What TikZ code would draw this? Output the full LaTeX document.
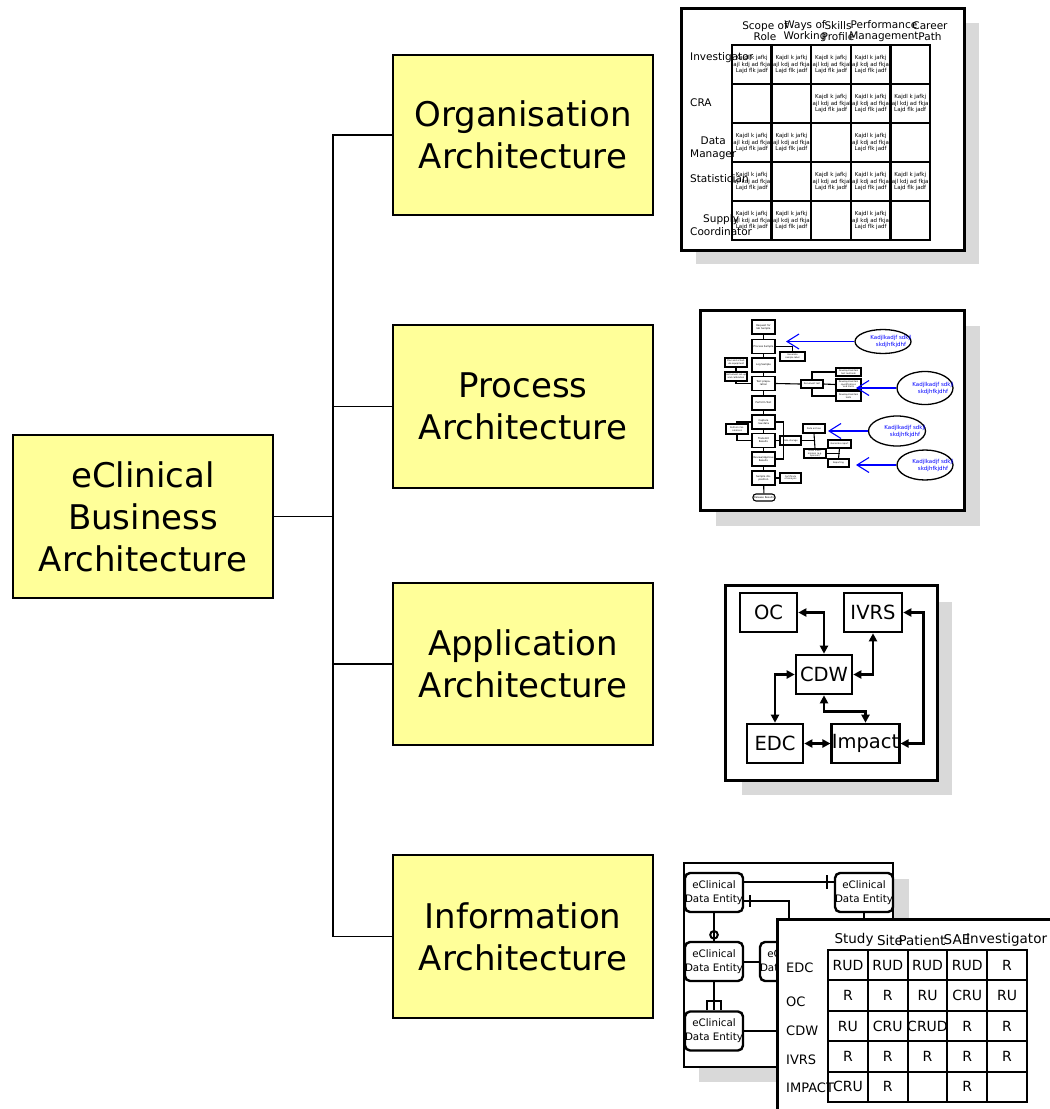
\documentclass[tikz,border=0pt]{standalone}
\usepackage{fontspec}
\setmainfont{DejaVu Sans}
\usetikzlibrary{shapes.geometric,arrows.meta,calc}
\definecolor{boxyellow}{RGB}{255,255,153}
\definecolor{shadowgray}{RGB}{217,217,217}
\begin{document}
\begin{tikzpicture}[x=1pt,y=-1pt,
  archbox/.style={draw=black,line width=1.5pt,fill=boxyellow,minimum width=260pt,minimum height=162pt,inner sep=0pt,align=center,font=\fontsize{34}{42}\selectfont},
  conn/.style={line width=1.7pt},
  shadow/.style={fill=shadowgray},
  frame/.style={draw=black,line width=3pt,fill=white},
  orgcell/.style={draw=black,line width=2.5pt,minimum width=39.6pt,minimum height=39pt,inner sep=0pt},
  celltxt/.style={align=center,inner sep=0pt,font=\fontsize{5.5}{6.5}\selectfont},
  orghead/.style={align=center,inner sep=0pt,font=\fontsize{10.5}{11}\selectfont},
  orgrow/.style={align=center,inner sep=0pt,anchor=west,font=\fontsize{10.5}{13}\selectfont},
  pbox/.style={draw=black,line width=1.1pt,fill=white,inner sep=0pt,minimum width=23pt,minimum height=14pt,align=center,text width=20pt,font=\fontsize{2.5}{3}\selectfont},
  sbox/.style={draw=black,line width=1.1pt,fill=white,inner sep=0pt,minimum width=22pt,minimum height=9pt,align=center,text width=20pt,font=\fontsize{2.2}{2.6}\selectfont},
  pline/.style={line width=1.1pt},
  ell/.style={ellipse,draw=black,line width=1.3pt,fill=white,inner sep=0pt,minimum width=56pt},
  elltxt/.style={text=blue,align=center,font=\fontsize{5.5}{7}\selectfont},
  barrow/.style={draw=blue,line width=1.1pt,-{Straight Barb[length=12pt,width=15pt]}},
  appbox/.style={draw=black,line width=2.6pt,fill=white,inner sep=0pt,minimum width=57pt,minimum height=39pt,font=\fontsize{19.5}{22}\selectfont},
  apparrow/.style={line width=2.4pt,{Triangle[length=8pt,width=8pt]}-{Triangle[length=8pt,width=8pt]}},
  entity/.style={draw=black,line width=2.4pt,fill=white,rounded corners=5pt,inner sep=0pt,minimum width=46pt,minimum height=39pt,align=center,font=\fontsize{10.3}{14}\selectfont},
  erline/.style={line width=2pt},
  crudcell/.style={draw=black,line width=2pt,minimum width=39.8pt,minimum height=30.4pt,inner sep=0pt},
  crudtxt/.style={inner sep=0pt,font=\fontsize{14}{15}\selectfont},
  crudhead/.style={inner sep=0pt,font=\fontsize{13.5}{15}\selectfont},
  crudrow/.style={inner sep=0pt,anchor=west,font=\fontsize{13}{15}\selectfont}
]
\useasboundingbox (0,0) rectangle (1050,1109);

% ---------- main tree ----------
\node[archbox,minimum height=163pt] (root) at (143,516.5) {eClinical\\Business\\Architecture};
\node[archbox,minimum height=160pt] (org) at (523,135) {Organisation\\Architecture};
\node[archbox,minimum height=163pt] (proc) at (523,406.5) {Process\\Architecture};
\node[archbox] (app) at (523,664) {Application\\Architecture};
\node[archbox,minimum height=163pt] (info) at (523,936.5) {Information\\Architecture};
\coordinate (bus) at (333,516.5);
\draw[conn] (root.east) -- (bus);
\draw[conn] (org.west) -| (bus);
\draw[conn] (proc.west) -| (bus);
\draw[conn] (app.west) -| (bus);
\draw[conn] (info.west) -| (bus);

% ---------- organisation matrix ----------
\fill[shadow] (696,23) rectangle (979,264);
\draw[frame] (681,8) rectangle (964,250);
\foreach \r in {1,...,5}{
  \foreach \c in {1,...,5}{
    \node[orgcell] (oc-\r-\c) at ({732+(\c-0.5)*39.6},{45+(\r-0.5)*39}) {};
  }
}
\foreach \r/\c in {1/1,1/2,1/3,1/4,2/3,2/4,2/5,3/1,3/2,3/4,4/1,4/3,4/4,4/5,5/1,5/2,5/4}
  \node[celltxt] at (oc-\r-\c) {Kajdl k jafkj\\lajl kdj ad fkjal\\Lajd flk jadf};
\node[orghead] (h1) at (765,31.5) {Scope of\\Role};
\node[orghead] (h2) at (805,31.5) {Ways of\\Working};
\node[orghead] (h3) at (838,31.5) {Skills\\Profile};
\node[orghead] (h4) at (884,31.5) {Performance\\Management};
\node[orghead] (h5) at (930,31.5) {Career\\Path};
\node[orgrow] (r1) at (690,58) {Investigator};
\node[orgrow] (r2) at (690,103) {CRA};
\node[orgrow] (r3) at (690,148.5) {Data\\Manager};
\node[orgrow] (r4) at (690,179) {Statistician};
\node[orgrow] (r5) at (690,225.5) {Supply\\Coordinator};

% ---------- process map ----------
\fill[shadow] (716,326) rectangle (980,526);
\draw[frame] (700,310) rectangle (964,510);
\node[pbox] (b1) at (763.5,327) {Request for lab Sample};
\node[pbox] (b2) at (763.5,346.5) {Process Sample};
\node[pbox] (b3) at (763.5,365) {Log Sample};
\node[pbox] (b4) at (763.5,383.5) {Test preparation};
\node[pbox] (b5) at (763.5,403) {Perform Test};
\node[pbox] (b6) at (763.5,422) {Capture raw data};
\node[pbox] (b7) at (763.5,440.5) {Transmit Results};
\node[pbox] (b8) at (763.5,459) {Review/Approve Results};
\node[pbox] (b9) at (763.5,478) {Sample disposition};
\node[pbox,rounded corners=3pt,minimum width=22pt,minimum height=7pt] (term) at (764,497.5) {Release Results};
\node[sbox,minimum width=25pt] (s1) at (792.5,356.5) {Generate sample label};
\node[sbox] (L1) at (736,362.5) {Plan and schedule equipment};
\node[sbox] (L2) at (736,376.5) {Instrument set-up and calibration};
\node[sbox,minimum height=8pt] (D) at (812,384) {Document test};
\node[sbox,minimum width=25pt,minimum height=8pt] (R1) at (848.5,372) {Develop/maintain test methods};
\node[sbox,minimum width=25pt,minimum height=11pt] (R2) at (848.5,384.5) {Develop/maintain specifications and limits};
\node[sbox,minimum width=25pt,minimum height=10pt] (R3) at (848.5,396) {Develop/maintain tests};
\node[sbox,minimum height=10pt] (P) at (737,429) {Perform Calculations};
\node[sbox,minimum width=21pt] (T1) at (790.5,440.5) {Data storage};
\node[sbox] (A) at (814,428.5) {Data archive};
\node[sbox] (DT) at (815,453.5) {Data Transmission (e.g. Sponsor)};
\node[sbox,minimum width=23pt,minimum height=8pt] (GR) at (839.5,444) {Generate report};
\node[sbox,minimum width=21pt,minimum height=8pt] (RP) at (838.5,463) {Reporting};
\node[sbox,minimum width=21pt,minimum height=10pt] (CoA) at (790.5,478) {Certificate of Analysis};
\draw[pline] (b1) -- (b2); \draw[pline] (b2) -- (b3); \draw[pline] (b3) -- (b4);
\draw[pline] (b4) -- (b5); \draw[pline] (b5) -- (b6); \draw[pline] (b6) -- (b7);
\draw[pline] (b7) -- (b8); \draw[pline] (b8) -- (b9); \draw[pline] (b9) -- (term);
\draw[pline] (b2.east) -| (s1.north);
\draw[pline] (L1) -- (L2);
\draw[pline] (L2.south) |- (b4.west);
\draw[pline] (b4.east) -- (D.west);
\draw[pline] (D.north) |- (R1.west);
\draw[pline] (D.east) -- (R2.west);
\draw[pline] (D.south) |- (R3.west);
\draw[pline] (P.north) |- (b6.west);
\draw[pline] (P.south) |- (b7.west);
\draw[pline] (b6.east) -- ++(8,0) |- (b8.east);
\draw[pline] (b7.east) -- (T1.west);
\draw[pline] (A.south) -- (DT.north);
\draw[pline] (T1.east) -- (T1.east -| A.south);
\draw[pline] (GR.south) -- (RP.north);
\draw[pline] (DT.east) -- (DT.east -| GR.south);
\draw[pline] (b9.east) -- (CoA.west);
\node[ell,minimum height=24pt] (e1) at (883,341.5) {};
\node[ell,minimum height=33pt] (e2) at (925,388) {};
\node[ell,minimum height=30pt,minimum width=57pt] (e3) at (897,431) {};
\node[ell,minimum height=30pt] (e4) at (925,465) {};
\node[elltxt] (t1) at (891,341.5) {Kadjlkadjf sdkjl\\skdjhfkjdhf};
\node[elltxt] (t2) at (933,388) {Kadjlkadjf sdkjl\\skdjhfkjdhf};
\node[elltxt] (t3) at (905,431) {Kadjlkadjf sdkjl\\skdjhfkjdhf};
\node[elltxt] (t4) at (933,465) {Kadjlkadjf sdkjl\\skdjhfkjdhf};
\coordinate (a1) at (786,341.5);
\coordinate (a2) at (856,388);
\coordinate (a3) at (828,431);
\coordinate (a4) at (856,465);
\draw[barrow] (e1.west) -- (a1);
\draw[barrow] (e2.west) -- (a2);
\draw[barrow] (e3.west) -- (a3);
\draw[barrow] (e4.west) -- (a4);

% ---------- application architecture ----------
\fill[shadow] (742,602) rectangle (952,795);
\draw[frame] (725,585) rectangle (937,780);
\node[appbox] (OC) at (768.5,612.5) {OC};
\node[appbox,minimum width=58pt] (IVRS) at (873,612.5) {IVRS};
\node[appbox,minimum width=56pt] (CDW) at (824,674.5) {CDW};
\node[appbox,minimum width=56pt] (EDC) at (775,743.5) {EDC};
\node[appbox] (IMP) at (865.5,743.5) {Impact};
\draw[apparrow] (OC.east) -| (CDW.north);
\draw[apparrow] (IVRS.south) |- (CDW.east);
\draw[apparrow] (CDW.west) -| (EDC.north);
\draw[apparrow] (CDW.south) -- ++(0,16) -| (IMP.north);
\draw[apparrow] (EDC.east) -- (IMP.west);
\draw[apparrow] (IVRS.east) -- ++(20,0) |- (IMP.east);

% ---------- information architecture ----------
\fill[shadow] (699,879) rectangle (909,1082);
\draw[frame,line width=2.5pt] (684,863) rectangle (893,1067);
\node[entity] (E1) at (714,892.5) {eClinical\\Data Entity};
\node[entity] (E2) at (864,892.5) {eClinical\\Data Entity};
\node[entity] (E3) at (714,961.5) {eClinical\\Data Entity};
\node[entity] (E4) at (789,961.5) {eClinical\\Data Entity};
\node[entity] (E5) at (714,1031) {eClinical\\Data Entity};
\draw[erline] ($(E1.east)+(0,-10.5)$) -- ($(E2.west)+(0,-10.5)$);
\draw[erline] ($(E2.west)+(-7,-17.5)$) -- ($(E2.west)+(-7,-3.5)$);
\draw[erline] ($(E1.east)+(0,8.5)$) -| (E4.north);
\draw[erline] ($(E1.east)+(6,2.5)$) -- ($(E1.east)+(6,14.5)$);
\draw[erline] (E1.south) -- (E3.north);
\draw[erline] ($(E3.north)+(0,-6)$) circle (3.8pt);
\draw[erline] (E3.east) -- (E4.west);
\draw[erline] (E3.south) -- (E5.north);
\draw[erline] ($(E5.north)+(-7,0)$) -- ++(0,-9) -- ++(14,0) -- ++(0,9);
\draw[erline] (E5.east) -| (E4.south);
\draw[erline] (E2.south) |- (E4.east);
% CRUD matrix
\draw[frame] (777,919) rectangle (1070,1130);
\foreach \r in {1,...,5}{
  \foreach \c in {1,...,5}{
    \node[crudcell] (cr-\r-\c) at ({828+(\c-0.5)*39.8},{950+(\r-0.5)*30.4}) {};
  }
}
\foreach \r/\c/\t in {1/1/RUD,1/2/RUD,1/3/RUD,1/4/RUD,1/5/R,
                      2/1/R,2/2/R,2/3/RU,2/4/CRU,2/5/RU,
                      3/1/RU,3/2/CRU,3/3/CRUD,3/4/R,3/5/R,
                      4/1/R,4/2/R,4/3/R,4/4/R,4/5/R,
                      5/1/CRU,5/2/R,5/4/R}
  \node[crudtxt] at (cr-\r-\c) {\t};
\node[crudhead] (ch1) at (854,940) {Study};
\node[crudhead] (ch2) at (890,940) {Site};
\node[crudhead] (ch3) at (922,940) {Patient};
\node[crudhead] (ch4) at (957,940) {SAE};
\node[crudhead,anchor=west] (ch5) at (966,940) {Investigator};
\node[crudrow] (cl1) at (786,968) {EDC};
\node[crudrow] (cl2) at (786,1002) {OC};
\node[crudrow] (cl3) at (786,1031) {CDW};
\node[crudrow] (cl4) at (786,1060) {IVRS};
\node[crudrow] (cl5) at (786,1088) {IMPACT};
\end{tikzpicture}
\end{document}
